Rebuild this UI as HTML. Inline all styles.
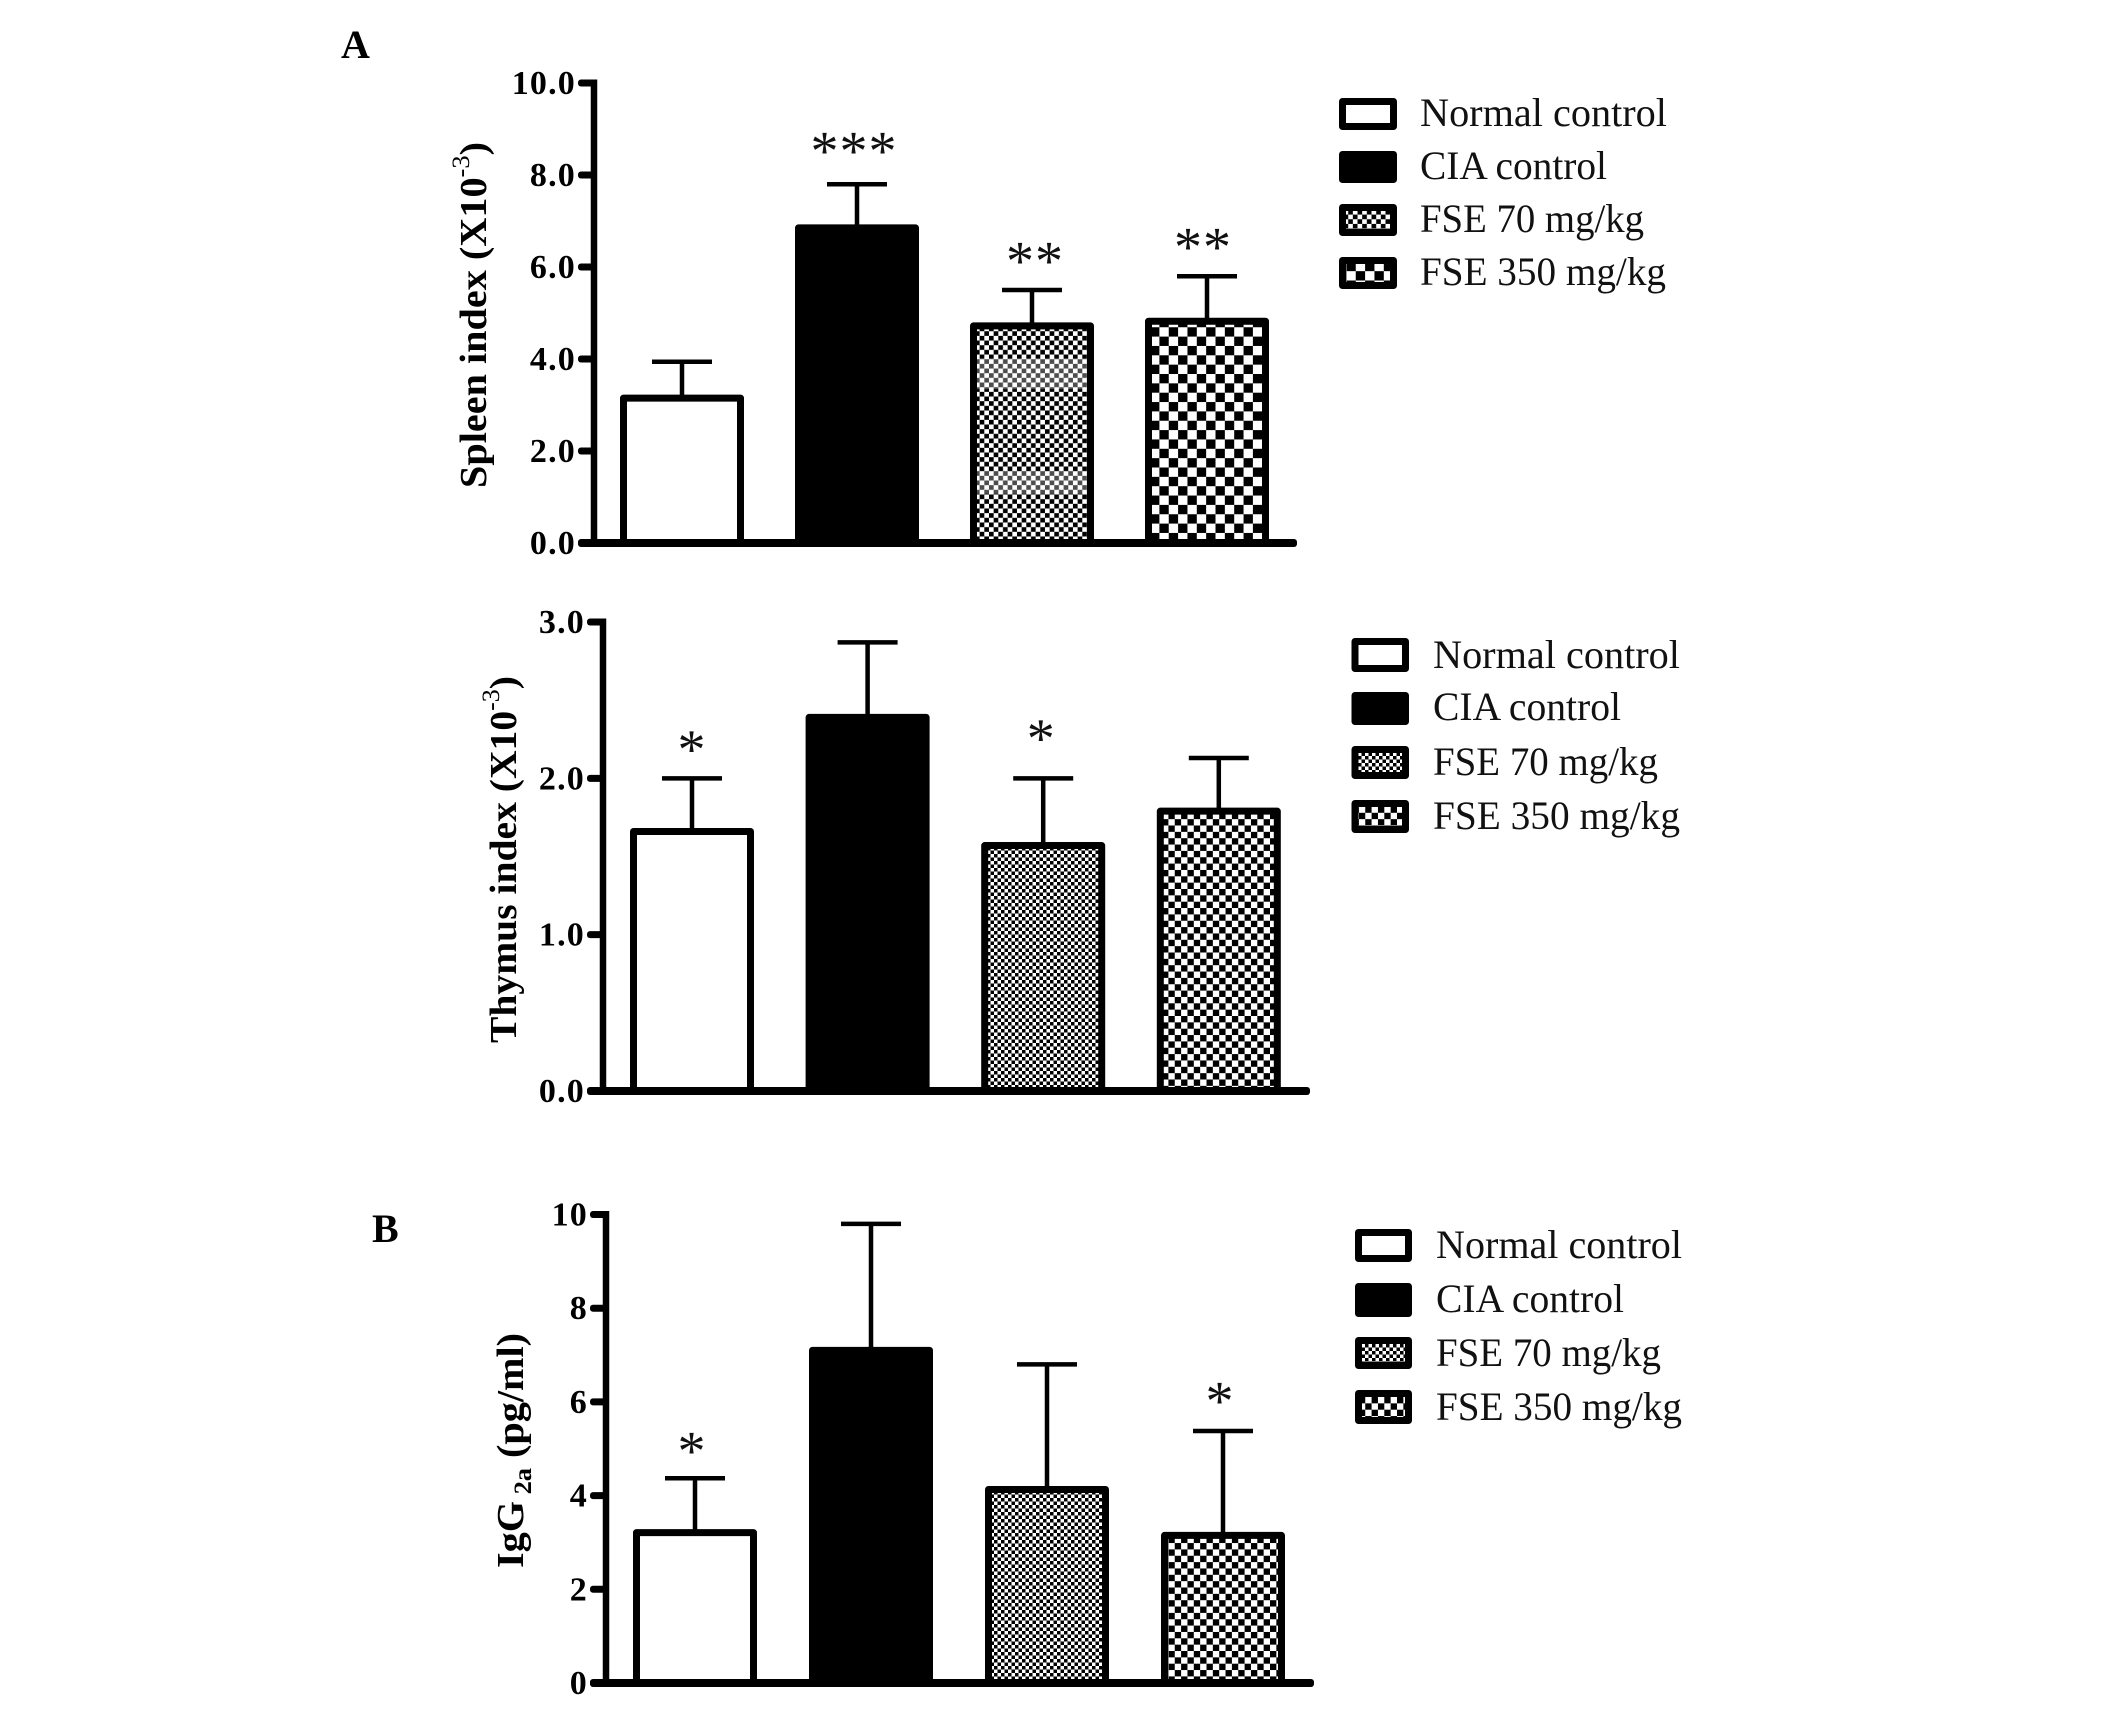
<!DOCTYPE html>
<html lang="en">
<head>
<meta charset="utf-8">
<title>Spleen index, thymus index and IgG2a bar charts</title>
<style>
html,body{margin:0;padding:0;background:#fff;}
svg{display:block;}
text{font-family:"Liberation Serif",serif;fill:#000;}
.legend-text{font-size:40px;fill:#111;}
.axis-title{font-size:38px;font-weight:bold;}
.panel-letter{font-size:40px;font-weight:bold;}
.tick-label{font-size:34px;font-weight:bold;text-anchor:end;letter-spacing:1.2px;}
.star{font-size:56px;text-anchor:middle;fill:#111;letter-spacing:1px;}
</style>
</head>
<body>
<svg id="fig" xmlns="http://www.w3.org/2000/svg" width="2126" height="1712" viewBox="0 0 2126 1712">
<defs>
<pattern id="chk933" patternUnits="userSpaceOnUse" width="9.33" height="9.33"><rect width="9.33" height="9.33" fill="#fff"/><rect width="4.67" height="4.67" fill="#000"/><rect x="4.67" y="4.67" width="4.66" height="4.66" fill="#000"/></pattern>
<pattern id="chk187" patternUnits="userSpaceOnUse" width="18.7" height="18.7"><rect width="18.7" height="18.7" fill="#fff"/><rect width="9.35" height="9.35" fill="#000"/><rect x="9.35" y="9.35" width="9.35" height="9.35" fill="#000"/></pattern>
<pattern id="chk7" patternUnits="userSpaceOnUse" width="7" height="7"><rect width="7" height="7" fill="#fff"/><rect width="3.5" height="3.5" fill="#000"/><rect x="3.5" y="3.5" width="3.5" height="3.5" fill="#000"/></pattern>
<pattern id="chk127" patternUnits="userSpaceOnUse" width="12.7" height="12.7"><rect width="12.7" height="12.7" fill="#fff"/><rect width="6.35" height="6.35" fill="#000"/><rect x="6.35" y="6.35" width="6.35" height="6.35" fill="#000"/></pattern>
</defs>

<text class="panel-letter" x="341" y="58">A</text>
<text class="panel-letter" x="372" y="1242">B</text>

<text class="axis-title" transform="translate(486 488) rotate(-90)" textLength="346" lengthAdjust="spacingAndGlyphs">Spleen index (X10<tspan dy="-17" font-size="25" font-weight="normal">-3</tspan><tspan dy="17">)</tspan></text>
<text class="axis-title" transform="translate(516 1043) rotate(-90)" textLength="367" lengthAdjust="spacingAndGlyphs">Thymus index (X10<tspan dy="-17" font-size="25" font-weight="normal">-3</tspan><tspan dy="17">)</tspan></text>
<text class="axis-title" transform="translate(523 1568) rotate(-90)" textLength="235" lengthAdjust="spacingAndGlyphs">IgG<tspan dy="8" font-size="25"> 2a</tspan><tspan dy="-8"> (pg/ml)</tspan></text>

<g>
  <g><rect x="1342.5" y="101.5" width="51" height="25" fill="#fff" stroke="#000" stroke-width="7" stroke-linejoin="round"/><text class="legend-text" x="1420" y="126" textLength="247" lengthAdjust="spacingAndGlyphs">Normal control</text></g>
  <g><rect x="1342.5" y="154.5" width="51" height="25" fill="#000" stroke="#000" stroke-width="7" stroke-linejoin="round"/><text class="legend-text" x="1420" y="179" textLength="187" lengthAdjust="spacingAndGlyphs">CIA control</text></g>
  <g><rect x="1342.5" y="207.5" width="51" height="25" fill="url(#chk933)" stroke="#000" stroke-width="7" stroke-linejoin="round"/><text class="legend-text" x="1420" y="232" textLength="224" lengthAdjust="spacingAndGlyphs">FSE 70 mg/kg</text></g>
  <g><rect x="1342.5" y="260.5" width="51" height="25" fill="url(#chk187)" stroke="#000" stroke-width="7" stroke-linejoin="round"/><text class="legend-text" x="1420" y="285" textLength="246" lengthAdjust="spacingAndGlyphs">FSE 350 mg/kg</text></g>
</g>

<g>
  <g><rect x="1355" y="641.5" width="50.5" height="27" fill="#fff" stroke="#000" stroke-width="7" stroke-linejoin="round"/><text class="legend-text" x="1433" y="668" textLength="247" lengthAdjust="spacingAndGlyphs">Normal control</text></g>
  <g><rect x="1355" y="695.5" width="50.5" height="26" fill="#000" stroke="#000" stroke-width="7" stroke-linejoin="round"/><text class="legend-text" x="1433" y="720" textLength="188" lengthAdjust="spacingAndGlyphs">CIA control</text></g>
  <g><rect x="1355" y="749.5" width="50.5" height="26" fill="url(#chk7)" stroke="#000" stroke-width="7" stroke-linejoin="round"/><text class="legend-text" x="1433" y="775" textLength="225" lengthAdjust="spacingAndGlyphs">FSE 70 mg/kg</text></g>
  <g><rect x="1355" y="803.5" width="50.5" height="26" fill="url(#chk127)" stroke="#000" stroke-width="7" stroke-linejoin="round"/><text class="legend-text" x="1433" y="829" textLength="247" lengthAdjust="spacingAndGlyphs">FSE 350 mg/kg</text></g>
</g>

<g>
  <g><rect x="1358.5" y="1232.5" width="50" height="26" fill="#fff" stroke="#000" stroke-width="7" stroke-linejoin="round"/><text class="legend-text" x="1436" y="1258" textLength="246" lengthAdjust="spacingAndGlyphs">Normal control</text></g>
  <g><rect x="1358.5" y="1286.5" width="50" height="27" fill="#000" stroke="#000" stroke-width="7" stroke-linejoin="round"/><text class="legend-text" x="1436" y="1312" textLength="188" lengthAdjust="spacingAndGlyphs">CIA control</text></g>
  <g><rect x="1358.5" y="1340.5" width="50" height="25" fill="url(#chk7)" stroke="#000" stroke-width="7" stroke-linejoin="round"/><text class="legend-text" x="1436" y="1366" textLength="225" lengthAdjust="spacingAndGlyphs">FSE 70 mg/kg</text></g>
  <g><rect x="1358.5" y="1393.5" width="50" height="27" fill="url(#chk127)" stroke="#000" stroke-width="7" stroke-linejoin="round"/><text class="legend-text" x="1436" y="1420" textLength="246" lengthAdjust="spacingAndGlyphs">FSE 350 mg/kg</text></g>
</g>
</svg>

<script>
const categories = ['normal-control', 'cia-control', 'fse-70', 'fse-350'];

const spleenTickLabels = ['0.0', '2.0', '4.0', '6.0', '8.0', '10.0'];
const spleenValues = [3.15, 6.85, 4.72, 4.82];
const spleenErrors = [0.79, 0.95, 0.78, 0.98];
const spleenStars = ['', '***', '**', '**'];
const spleenStarLevels = [0, 8.67, 6.28, 6.59];

const thymusTickLabels = ['0.0', '1.0', '2.0', '3.0'];
const thymusValues = [1.66, 2.39, 1.57, 1.79];
const thymusErrors = [0.34, 0.48, 0.43, 0.34];
const thymusStars = ['*', '', '*', ''];
const thymusStarLevels = [2.23, 0, 2.30, 0];

const iggTickLabels = ['0', '2', '4', '6', '8', '10'];
const iggValues = [3.21, 7.10, 4.13, 3.15];
const iggErrors = [1.16, 2.70, 2.67, 2.23];
const iggStars = ['*', '', '', '*'];
const iggStarLevels = [5.10, 0, 0, 6.17];

const SVG_NS = 'http://www.w3.org/2000/svg';
const fig = document.getElementById('fig');

function make(tag, attrs, parent) {
  const el = document.createElementNS(SVG_NS, tag);
  Object.keys(attrs).forEach(function (k) { el.setAttribute(k, attrs[k]); });
  parent.appendChild(el);
  return el;
}

function drawPanel(name, frame, tickLabels, values, errors, stars, starLevels, fills) {
  const maxTick = parseFloat(tickLabels[tickLabels.length - 1]);
  const yScale = function (v) { return frame.y0 - (v / maxTick) * (frame.y0 - frame.yTop); };
  const xScale = function (i) { return frame.x0 + i * frame.step; };

  const panel = make('g', {}, fig);
  
  

  categories.forEach(function (cat, i) {
    const cx = xScale(i);
    const top = yScale(values[i]);
    const capY = yScale(values[i] + errors[i]);

    const stem = make('line', { x1: cx, x2: cx, y1: top, y2: capY, stroke: '#000', 'stroke-width': 4.5 }, panel);
    
    

    const cap = make('line', { x1: cx - 30, x2: cx + 30, y1: capY, y2: capY, stroke: '#000', 'stroke-width': 4.5 }, panel);
    
    

    const bar = make('rect', {
      x: cx - frame.barW / 2 + 3.5, y: top, width: frame.barW - 7, height: frame.y0 - top,
      fill: fills[i], stroke: '#000', 'stroke-width': 7, 'stroke-linejoin': 'round'
    }, panel);
    
    

    if (frame.bandBar === i) {
      const h = frame.y0 - top - 3.5;
      [[0.135, 0.145], [0.664, 0.106]].forEach(function (b) {
        const band = make('rect', {
          x: cx - frame.barW / 2 + 7, y: top + 3.5 + b[0] * h, width: frame.barW - 14, height: b[1] * h,
          fill: '#fff', opacity: 0.3
        }, panel);
        
        
      });
    }

    if (stars[i]) {
      const star = make('text', { x: cx + frame.starNudge[i], y: yScale(starLevels[i]) + 25.5, class: 'star' }, panel);
      
      
      star.textContent = stars[i];
    }
  });

  const yAxis = make('line', { x1: frame.axisX, x2: frame.axisX, y1: frame.yTop - 3.5, y2: frame.y0, stroke: '#000', 'stroke-width': 6.5 }, panel);
  
  

  const xAxis = make('rect', { x: frame.axisX - 16, y: frame.y0 - 4, width: frame.xEnd - frame.axisX + 16, height: 8, rx: 3, fill: '#000' }, panel);
  
  

  tickLabels.forEach(function (label) {
    const y = yScale(parseFloat(label));

    const tick = make('rect', { x: frame.axisX - 16, y: y - 3.5, width: 16, height: 7, rx: 3, fill: '#000' }, panel);
    
    

    const text = make('text', { x: frame.axisX - 18, y: y + 11, class: 'tick-label' }, panel);
    
    
    text.textContent = label;
  });
}

drawPanel('spleen',
  { y0: 543, yTop: 83, axisX: 594, xEnd: 1297, x0: 682, step: 175, barW: 124, bandBar: 2, starNudge: [0, -3, 3, -4] },
  spleenTickLabels, spleenValues, spleenErrors, spleenStars, spleenStarLevels,
  ['#fff', '#000', 'url(#chk933)', 'url(#chk187)']);

drawPanel('thymus',
  { y0: 1091, yTop: 622, axisX: 603, xEnd: 1310, x0: 692, step: 175.6, barW: 124, bandBar: -1, starNudge: [0, 0, -2, 0] },
  thymusTickLabels, thymusValues, thymusErrors, thymusStars, thymusStarLevels,
  ['#fff', '#000', 'url(#chk7)', 'url(#chk127)']);

drawPanel('igg',
  { y0: 1683, yTop: 1214.5, axisX: 606, xEnd: 1314, x0: 695, step: 176, barW: 124, bandBar: -1, starNudge: [-3, 0, 0, -3] },
  iggTickLabels, iggValues, iggErrors, iggStars, iggStarLevels,
  ['#fff', '#000', 'url(#chk7)', 'url(#chk127)']);
</script>
</body>
</html>
